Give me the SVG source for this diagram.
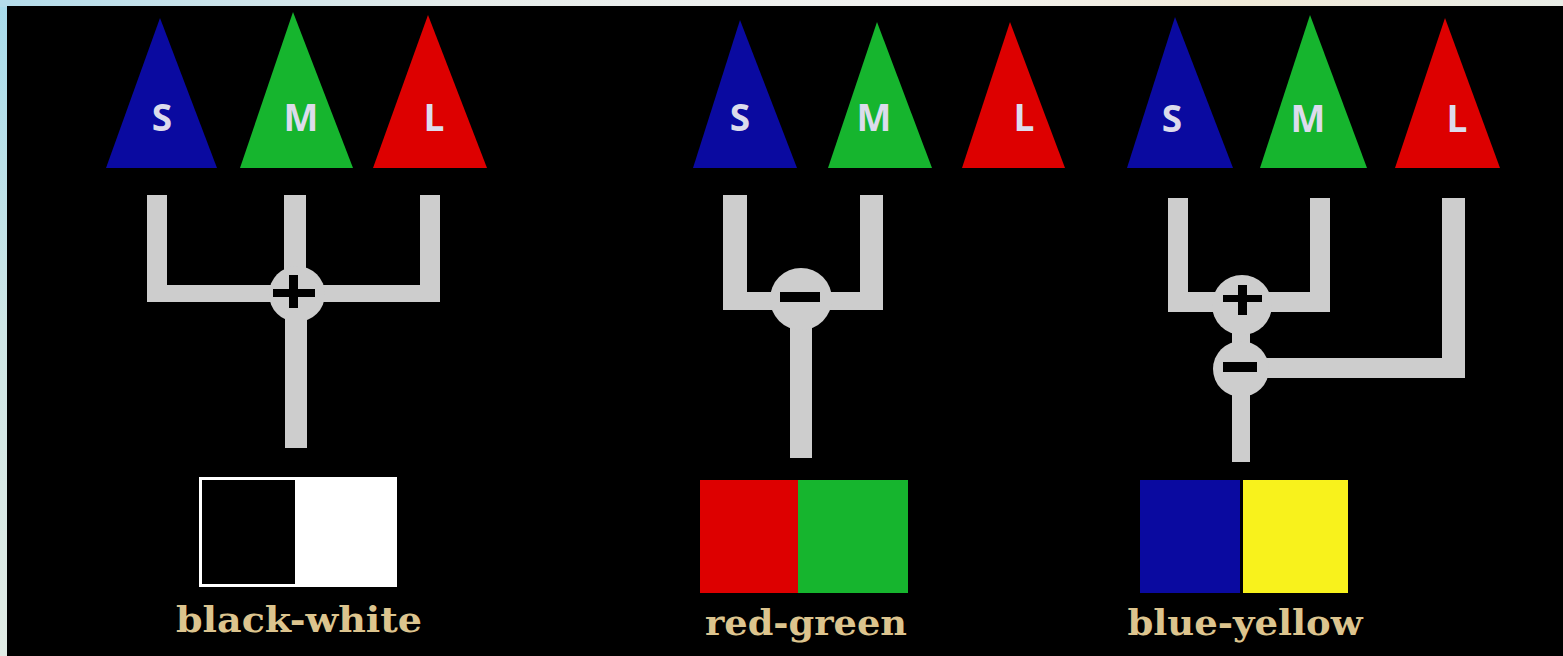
<svg xmlns="http://www.w3.org/2000/svg" width="1563" height="656" viewBox="0 0 1563 656">
<defs>
<linearGradient id="edge" x1="0" y1="0" x2="0" y2="1">
<stop offset="0" stop-color="#a8dcec"/>
<stop offset="0.5" stop-color="#cfe6e6"/>
<stop offset="1" stop-color="#e2ece6"/>
</linearGradient>
<linearGradient id="top" x1="0" y1="0" x2="1" y2="0">
<stop offset="0" stop-color="#b4dcea"/>
<stop offset="0.3" stop-color="#e6ecea"/>
<stop offset="0.6" stop-color="#f2f2f0"/>
<stop offset="0.8" stop-color="#f0ead8"/>
<stop offset="1" stop-color="#e8ece6"/>
</linearGradient>
</defs>
<style>
.s{fill:#0a0aa0}
.m{fill:#16b52e}
.l{fill:#dd0000}
.lt{font-family:"Open Sans","DejaVu Sans",sans-serif;font-weight:bold;font-size:37px;fill:#dcdcec;text-anchor:middle}
.bar{fill:#cdcdcd}
.sign{fill:#000}
.lab{font-family:"DejaVu Serif","Liberation Serif",serif;font-weight:bold;font-size:36px;fill:#dcc48e;text-anchor:middle}
</style>
<rect width="1563" height="656" fill="url(#edge)"/>
<rect x="0" y="0" width="1563" height="7" fill="url(#top)"/>
<rect x="7" y="6" width="1556" height="650" fill="#000"/>

<g id="connectors">
<path class="bar" d="M147 195H167V285H284V195H306V285H420V195H440V302H307V448H285V302H147Z"/>
<path class="bar" d="M723 195H747V292H860V195H883V310H812V458H790V310H723Z"/>
<path class="bar" d="M1168 198H1188V292H1310V198H1330V312H1250V358H1442V198H1465V378H1250V462H1232V312H1168Z"/>
</g>

<g id="cones-1">
<g id="s1"><polygon class="s" points="160,18 217,168 106,168"/><text class="lt" x="162" y="131">S</text></g>
<g id="m1"><polygon class="m" points="293,12 353,168 240,168"/><text class="lt" x="301" y="131">M</text></g>
<g id="l1"><polygon class="l" points="428,15 487,168 373,168"/><text class="lt" x="434" y="131">L</text></g>
</g>
<g id="cones-2">
<g id="s2"><polygon class="s" points="740,20 797,168 693,168"/><text class="lt" x="740" y="131">S</text></g>
<g id="m2"><polygon class="m" points="877,22 932,168 828,168"/><text class="lt" x="874" y="131">M</text></g>
<g id="l2"><polygon class="l" points="1010,22 1065,168 962,168"/><text class="lt" x="1024" y="131">L</text></g>
</g>
<g id="cones-3">
<g id="s3"><polygon class="s" points="1175,17 1233,168 1127,168"/><text class="lt" x="1172" y="132">S</text></g>
<g id="m3"><polygon class="m" points="1310,15 1367,168 1260,168"/><text class="lt" x="1308" y="132">M</text></g>
<g id="l3"><polygon class="l" points="1445,18 1500,168 1395,168"/><text class="lt" x="1457" y="132">L</text></g>
</g>

<g id="junction-bw">
<circle class="bar" cx="297" cy="294" r="28"/>
<rect class="sign" x="273" y="289" width="42" height="8"/>
<rect class="sign" x="289" y="275" width="9" height="33"/>
</g>
<g id="junction-rg">
<circle class="bar" cx="801" cy="299" r="31"/>
<rect class="sign" x="780" y="292" width="40" height="10"/>
</g>
<g id="junction-by-plus">
<circle class="bar" cx="1242" cy="305" r="30"/>
<rect class="sign" x="1223" y="295" width="39" height="7"/>
<rect class="sign" x="1238" y="285" width="9" height="30"/>
</g>
<g id="junction-by-minus">
<circle class="bar" cx="1241" cy="369" r="28"/>
<rect class="sign" x="1223" y="362" width="34" height="10"/>
</g>

<g id="swatch-bw">
<rect x="199" y="477" width="198" height="110" fill="#fff"/>
<rect x="202" y="480" width="93" height="104" fill="#000"/>
<text class="lab" x="299" y="632" textLength="246" lengthAdjust="spacingAndGlyphs">black-white</text>
</g>
<g id="swatch-rg">
<rect x="700" y="480" width="98" height="113" fill="#dd0000"/>
<rect x="798" y="480" width="110" height="113" fill="#16b52e"/>
<text class="lab" x="806" y="635" textLength="202" lengthAdjust="spacingAndGlyphs">red-green</text>
</g>
<g id="swatch-by">
<rect x="1140" y="480" width="100" height="113" fill="#0a0aa0"/>
<rect x="1243" y="480" width="105" height="113" fill="#f8f21c"/>
<text class="lab" x="1245" y="635" textLength="235" lengthAdjust="spacingAndGlyphs">blue-yellow</text>
</g>
</svg>
